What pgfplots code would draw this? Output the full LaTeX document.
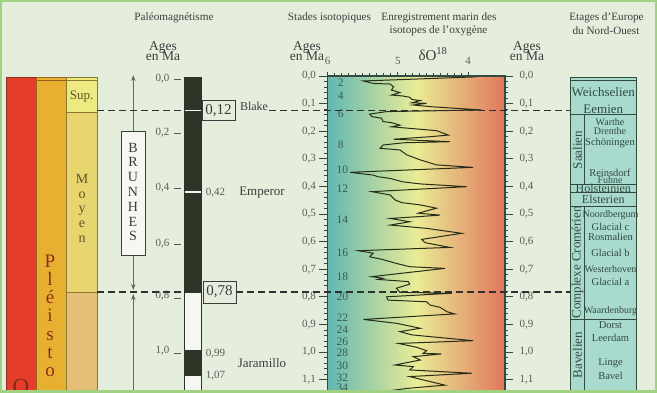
\documentclass[border=0pt]{standalone}
\usepackage{pgfplots}
\pgfplotsset{compat=1.18}
\usepackage{pgfplotstable}
\usepackage{fontspec}
\setmainfont{Liberation Serif}
\usetikzlibrary{arrows.meta}
\definecolor{bgc}{RGB}{229,238,221}
\definecolor{framec}{RGB}{160,210,130}
\definecolor{redc}{RGB}{228,62,42}
\definecolor{redb}{RGB}{140,45,30}
\definecolor{orc}{RGB}{232,176,48}
\definecolor{orb}{RGB}{150,100,30}
\definecolor{supc}{RGB}{236,234,128}
\definecolor{moyc}{RGB}{231,214,112}
\definecolor{infc}{RGB}{229,190,120}
\definecolor{yelb}{RGB}{140,120,50}
\definecolor{barb}{RGB}{45,52,40}
\definecolor{barw}{RGB}{245,247,240}
\definecolor{tealg}{RGB}{98,184,180}
\definecolor{yelg}{RGB}{234,236,150}
\definecolor{salg}{RGB}{226,118,92}
\definecolor{curvec}{RGB}{40,45,25}
\definecolor{stagec}{RGB}{168,218,206}
\definecolor{stagel}{RGB}{50,75,65}
\definecolor{txt}{RGB}{60,60,60}
\definecolor{txtg}{RGB}{90,90,90}
\definecolor{stnum}{RGB}{60,90,80}
\definecolor{arrc}{RGB}{100,108,98}
\newcommand\fs[1]{\fontsize{#1}{#1}\selectfont}
\newcommand\rect[5]{\addplot[#5] coordinates {(#1,#2)(#3,#2)(#3,#4)(#1,#4)(#1,#2)};}
\newcommand\hl[4]{\addplot[#4] coordinates {(#1,#3)(#2,#3)};}

\pgfplotstableread{
d a
3.88 0.003
5.49 0.018
5.35 0.027
5.11 0.029
5.06 0.039
5.09 0.051
4.97 0.060
5.09 0.069
4.94 0.072
4.83 0.077
4.80 0.085
4.68 0.089
4.80 0.097
4.59 0.099
4.78 0.105
4.54 0.111
3.81 0.123
5.16 0.129
5.40 0.138
5.37 0.147
5.23 0.153
5.21 0.165
5.09 0.169
4.97 0.178
5.09 0.184
4.45 0.198
4.28 0.214
4.54 0.220
5.06 0.229
4.26 0.238
4.92 0.242
5.21 0.250
5.25 0.262
4.97 0.268
4.87 0.286
4.68 0.304
4.45 0.322
3.93 0.331
5.68 0.349
5.35 0.359
5.28 0.365
5.11 0.371
4.94 0.383
4.68 0.391
4.02 0.401
5.37 0.419
5.11 0.431
5.04 0.449
4.94 0.459
4.68 0.467
4.45 0.479
4.71 0.497
4.40 0.504
4.73 0.510
5.11 0.516
4.83 0.528
5.11 0.540
4.59 0.552
4.09 0.570
4.35 0.580
4.66 0.592
4.61 0.604
4.26 0.621
5.56 0.633
5.35 0.642
5.40 0.655
5.23 0.664
5.02 0.679
4.83 0.691
4.33 0.697
5.37 0.727
5.21 0.733
5.28 0.737
4.85 0.745
4.83 0.754
5.02 0.769
4.97 0.784
4.23 0.787
5.16 0.800
5.14 0.812
4.59 0.818
4.54 0.830
4.40 0.838
4.30 0.854
4.19 0.862
5.49 0.882
5.02 0.896
4.68 0.914
4.97 0.926
4.80 0.938
3.93 0.959
4.99 0.969
4.73 0.983
4.59 0.995
4.64 1.005
4.38 1.007
4.78 1.017
4.68 1.029
5.04 1.047
4.78 1.053
4.83 1.065
3.95 1.077
4.83 1.089
4.64 1.101
4.33 1.120
4.87 1.132
5.11 1.140
4.92 1.150
}\isotope

\begin{document}
\begin{tikzpicture}
\useasboundingbox (0,0) rectangle (657pt,392pt);
% ---------------- background axis in pixel coordinates
\begin{axis}[at={(0pt,392pt)}, anchor=north west, scale only axis,
  width=657pt, height=392pt, xmin=0, xmax=657, ymin=0, ymax=392,
  y dir=reverse, hide axis, clip=false, enlargelimits=false]
\rect{0}{0}{657}{392}{fill=bgc, draw=none}
% left stratigraphic columns
\rect{6.7}{77.3}{36}{400}{fill=redc, draw=redb, line width=0.8pt}
\rect{36}{77.3}{66}{400}{fill=orc, draw=orb, line width=0.8pt}
\hl{36}{66}{80.7}{orb, line width=0.6pt}
\rect{66}{77.3}{97.3}{80.7}{fill=supc, draw=yelb, line width=0.6pt}
\rect{66}{80.7}{97.3}{112}{fill=supc, draw=yelb, line width=0.6pt}
\rect{66}{112}{97.3}{292}{fill=moyc, draw=yelb, line width=0.6pt}
\rect{66}{292}{97.3}{400}{fill=infc, draw=yelb, line width=0.6pt}
\node[font=\fs{13}, text=yelb!70!black] at (axis cs:81.7,97) {Sup.};
\node[font=\fs{14}, text=yelb!70!black, anchor=base] at (axis cs:82,183) {M};
\node[font=\fs{14}, text=yelb!70!black, anchor=base] at (axis cs:82,198) {o};
\node[font=\fs{14}, text=yelb!70!black, anchor=base] at (axis cs:82,212.5) {y};
\node[font=\fs{14}, text=yelb!70!black, anchor=base] at (axis cs:82,227.5) {e};
\node[font=\fs{14}, text=yelb!70!black, anchor=base] at (axis cs:82,242) {n};
\node[font=\fs{19}, text=redb, anchor=base] at (axis cs:50,267) {P};
\node[font=\fs{19}, text=redb, anchor=base] at (axis cs:50,285) {l};
\node[font=\fs{19}, text=redb, anchor=base] at (axis cs:50,303) {é};
\node[font=\fs{19}, text=redb, anchor=base] at (axis cs:50,321) {i};
\node[font=\fs{19}, text=redb, anchor=base] at (axis cs:50,340) {s};
\node[font=\fs{19}, text=redb, anchor=base] at (axis cs:50,358) {t};
\node[font=\fs{19}, text=redb, anchor=base] at (axis cs:50,376) {o};
\node[font=\fs{23}, text=redb!90!black, anchor=base] at (axis cs:21,394) {Q};
% Brunhes arrows
\addplot[arrc, line width=1pt, -{Stealth[length=6pt,width=4.5pt]}] coordinates {(133.3,131)(133.3,75)};
\addplot[arrc, line width=1pt, -{Stealth[length=6pt,width=4.5pt]}] coordinates {(133.3,255)(133.3,290)};
\addplot[arrc, line width=1pt, -{Stealth[length=6pt,width=4.5pt]}] coordinates {(133.3,400)(133.3,294)};
\rect{121}{131}{145}{255}{fill=barw, draw=txt, line width=0.9pt}
\node[font=\fs{14}, text=txt, anchor=base] at (axis cs:133,152) {B};
\node[font=\fs{14}, text=txt, anchor=base] at (axis cs:133,166.8) {R};
\node[font=\fs{14}, text=txt, anchor=base] at (axis cs:133,181.6) {U};
\node[font=\fs{14}, text=txt, anchor=base] at (axis cs:133,196.4) {N};
\node[font=\fs{14}, text=txt, anchor=base] at (axis cs:133,211.2) {H};
\node[font=\fs{14}, text=txt, anchor=base] at (axis cs:133,226) {E};
\node[font=\fs{14}, text=txt, anchor=base] at (axis cs:133,240.8) {S};
% paleomagnetic column
\rect{184}{77.3}{201}{292}{fill=barb, draw=barb, line width=0.6pt}
\rect{184}{292}{201}{350}{fill=barw, draw=barb, line width=0.6pt}
\rect{184}{350}{201}{375}{fill=barb, draw=barb, line width=0.6pt}
\rect{184}{375}{201}{400}{fill=barw, draw=barb, line width=0.6pt}
\hl{184.5}{200.5}{110.5}{barw, line width=1.6pt}
\hl{184.5}{200.5}{192}{barw, line width=1.4pt}
\node[font=\fs{11}, text=txtg, anchor=east] at (axis cs:173,79) {0,0};
\node[font=\fs{11}, text=txtg, anchor=east] at (axis cs:173,133) {0,2};
\node[font=\fs{11}, text=txtg, anchor=east] at (axis cs:173,188) {0,4};
\node[font=\fs{11}, text=txtg, anchor=east] at (axis cs:173,244) {0,6};
\node[font=\fs{11}, text=txtg, anchor=east] at (axis cs:173,296) {0,8};
\node[font=\fs{11}, text=txtg, anchor=east] at (axis cs:173,351) {1,0};
\hl{174}{181}{79}{txtg, line width=0.9pt}
\hl{174}{181}{133}{txtg, line width=0.9pt}
\hl{174}{181}{188}{txtg, line width=0.9pt}
\hl{174}{181}{244}{txtg, line width=0.9pt}
\hl{174}{181}{298}{txtg, line width=0.9pt}
\hl{174}{181}{353}{txtg, line width=0.9pt}
\node[font=\fs{15}, text=txt, draw=txt, fill=bgc, line width=0.9pt, minimum width=33pt, minimum height=20pt, inner sep=0pt] at (axis cs:218.5,110.5) {0,12};
\node[font=\fs{15}, text=txt, draw=txt, fill=bgc, line width=0.9pt, minimum width=33pt, minimum height=22pt, inner sep=0pt] at (axis cs:219.5,292) {0,78};
\node[font=\fs{12}, text=txt] at (axis cs:254,106) {Blake};
\node[font=\fs{11}, text=txtg] at (axis cs:215.5,193) {0,42};
\node[font=\fs{13}, text=txt] at (axis cs:262,193) {Emperor};
\node[font=\fs{11}, text=txtg] at (axis cs:215.5,354) {0,99};
\node[font=\fs{11}, text=txtg] at (axis cs:215.5,376) {1,07};
\node[font=\fs{13}, text=txt] at (axis cs:262,363) {Jaramillo};
% headers
\node[font=\fs{11.2}, text=txt] at (axis cs:174,18) {Paléomagnétisme};
\node[font=\fs{11.2}, text=txt] at (axis cs:329.5,18) {Stades isotopiques};
\node[font=\fs{11.2}, text=txt] at (axis cs:439,17.5) {Enregistrement marin des};
\node[font=\fs{11.2}, text=txt] at (axis cs:438.5,31) {isotopes de l'oxygène};
\node[font=\fs{11.2}, text=txt] at (axis cs:606.5,17.5) {Etages d'Europe};
\node[font=\fs{11.2}, text=txt] at (axis cs:606,31) {du Nord-Ouest};
\node[font=\fs{13.5}, text=txt] at (axis cs:163,47) {Ages};
\node[font=\fs{13.5}, text=txt] at (axis cs:163,56) {en Ma};
\node[font=\fs{13.5}, text=txt] at (axis cs:307,47) {Ages};
\node[font=\fs{13.5}, text=txt] at (axis cs:307,56) {en Ma};
\node[font=\fs{13.5}, text=txt] at (axis cs:527,47) {Ages};
\node[font=\fs{13.5}, text=txt] at (axis cs:527,56) {en Ma};
\node[font=\fs{15}, text=txt] at (axis cs:433,54) {δO\textsuperscript{18}};
% stage column
\rect{570}{77}{636.7}{400}{fill=stagec, draw=stagel, line width=1pt}
\hl{570}{636.7}{80.7}{stagel, line width=0.7pt}
\hl{570}{636.7}{114.3}{stagel, line width=0.7pt}
\hl{570}{636.7}{184}{stagel, line width=0.7pt}
\hl{570}{636.7}{192.5}{stagel, line width=0.7pt}
\hl{570}{636.7}{206.5}{stagel, line width=0.7pt}
\hl{570}{636.7}{319}{stagel, line width=0.7pt}
\addplot[stagel, line width=0.7pt] coordinates {(584,114.3)(584,184)};
\addplot[stagel, line width=0.7pt] coordinates {(584,206.5)(584,400)};
\node[font=\fs{13}, text=stagel] at (axis cs:603.3,91.7) {Weichselien};
\node[font=\fs{13}, text=stagel] at (axis cs:603.3,109) {Eemien};
\node[font=\fs{10}, text=stagel] at (axis cs:610,121.7) {Warthe};
\node[font=\fs{10}, text=stagel] at (axis cs:610,130.7) {Drenthe};
\node[font=\fs{10.5}, text=stagel] at (axis cs:610,142.7) {Schöningen};
\node[font=\fs{10.5}, text=stagel] at (axis cs:610,173.3) {Reinsdorf};
\node[font=\fs{10}, text=stagel] at (axis cs:610,180.5) {Fuhne};
\node[font=\fs{12}, text=stagel] at (axis cs:603.3,188.3) {Holsteinien};
\node[font=\fs{12}, text=stagel] at (axis cs:603.3,199.7) {Elsterien};
\node[font=\fs{10}, text=stagel] at (axis cs:610.5,215) {Noordbergum};
\node[font=\fs{10.5}, text=stagel] at (axis cs:610.5,226.7) {Glacial c};
\node[font=\fs{10.5}, text=stagel] at (axis cs:610.5,236.7) {Rosmalien};
\node[font=\fs{10.5}, text=stagel] at (axis cs:610.5,252.7) {Glacial b};
\node[font=\fs{10}, text=stagel] at (axis cs:610.5,269) {Westerhoven};
\node[font=\fs{10.5}, text=stagel] at (axis cs:610.5,281.7) {Glacial a};
\node[font=\fs{10}, text=stagel] at (axis cs:610.5,310.7) {Waardenburg};
\node[font=\fs{10.5}, text=stagel] at (axis cs:610.5,325) {Dorst};
\node[font=\fs{10.5}, text=stagel] at (axis cs:610.5,338.3) {Leerdam};
\node[font=\fs{10.5}, text=stagel] at (axis cs:610.5,363) {Linge};
\node[font=\fs{10.5}, text=stagel] at (axis cs:610.5,376) {Bavel};
\node[font=\fs{13}, text=stagel, rotate=90] at (axis cs:577.5,150) {Saalien};
\node[font=\fs{13}, text=stagel, rotate=90] at (axis cs:577.5,262.5) {Complexe Cromérien};
\node[font=\fs{13}, text=stagel, rotate=90] at (axis cs:577.5,355) {Bavelien};
% anchors for overlay
\coordinate (isoNW) at (axis cs:327.5,76);
\coordinate (a1) at (axis cs:97.3,110.5);
\coordinate (a2) at (axis cs:184,110.5);
\coordinate (a3) at (axis cs:269,110.5);
\coordinate (a4) at (axis cs:570,110.5);
\coordinate (b1) at (axis cs:97.3,292);
\coordinate (b2) at (axis cs:184,292);
\coordinate (b3) at (axis cs:236,292);
\coordinate (b4) at (axis cs:570,292);
\end{axis}
% ---------------- isotope axis
\begin{axis}[at={(isoNW)}, anchor=north west, scale only axis,
  width=177.5pt, height=331.2pt,
  xmin=3.475, xmax=6, x dir=reverse, ymin=0, ymax=1.2, y dir=reverse,
  enlargelimits=false, axis on top, clip=false,
  xtick={4,5,6}, minor x tick num=9, xtick pos=right, xticklabel pos=right,
  ytick={0,0.1,0.2,0.3,0.4,0.5,0.6,0.7,0.8,0.9,1.0,1.1}, minor y tick num=4,
  ytick pos=both, yticklabel pos=left,
  tick align=outside, major tick length=8pt, minor tick length=3pt,
  xtick style={/pgfplots/major tick length=4pt},
  tick style={color=stagel, line width=0.8pt},
  minor tick style={line width=0.6pt},
  axis line style={color=stagel, line width=1.1pt},
  /pgf/number format/assume math mode=true,
  yticklabel style={font=\fs{11}, text=txtg, /pgf/number format/use comma,
    /pgf/number format/fixed, /pgf/number format/fixed zerofill, /pgf/number format/precision=1},
  xticklabel style={font=\fs{11}, text=txtg},
]
\addplot[draw=none, left color=tealg, right color=salg, middle color=yelg]
  coordinates {(6,0)(3.475,0)(3.475,1.2)(6,1.2)(6,0)};
\addplot[curvec, line width=1pt] table[x=d, y=a] {\isotope};
\node[font=\fs{11.5}, text=stnum] at (axis cs:5.81,0.024) {2};
\node[font=\fs{11.5}, text=stnum] at (axis cs:5.81,0.072) {4};
\node[font=\fs{11.5}, text=stnum] at (axis cs:5.81,0.138) {6};
\node[font=\fs{11.5}, text=stnum] at (axis cs:5.81,0.250) {8};
\node[font=\fs{11.5}, text=stnum] at (axis cs:5.79,0.341) {10};
\node[font=\fs{11.5}, text=stnum] at (axis cs:5.79,0.409) {12};
\node[font=\fs{11.5}, text=stnum] at (axis cs:5.79,0.522) {14};
\node[font=\fs{11.5}, text=stnum] at (axis cs:5.79,0.640) {16};
\node[font=\fs{11.5}, text=stnum] at (axis cs:5.79,0.727) {18};
\node[font=\fs{11.5}, text=stnum] at (axis cs:5.79,0.800) {20};
\node[font=\fs{11.5}, text=stnum] at (axis cs:5.79,0.877) {22};
\node[font=\fs{11.5}, text=stnum] at (axis cs:5.79,0.920) {24};
\node[font=\fs{11.5}, text=stnum] at (axis cs:5.79,0.963) {26};
\node[font=\fs{11.5}, text=stnum] at (axis cs:5.79,1.004) {28};
\node[font=\fs{11.5}, text=stnum] at (axis cs:5.79,1.051) {30};
\node[font=\fs{11.5}, text=stnum] at (axis cs:5.79,1.094) {32};
\node[font=\fs{11.5}, text=stnum] at (axis cs:5.79,1.130) {34};
\node[font=\fs{11}, text=txtg, anchor=west, xshift=11pt] at (axis cs:3.475,0.0) {0,0};
\node[font=\fs{11}, text=txtg, anchor=west, xshift=11pt] at (axis cs:3.475,0.1) {0,1};
\node[font=\fs{11}, text=txtg, anchor=west, xshift=11pt] at (axis cs:3.475,0.2) {0,2};
\node[font=\fs{11}, text=txtg, anchor=west, xshift=11pt] at (axis cs:3.475,0.3) {0,3};
\node[font=\fs{11}, text=txtg, anchor=west, xshift=11pt] at (axis cs:3.475,0.4) {0,4};
\node[font=\fs{11}, text=txtg, anchor=west, xshift=11pt] at (axis cs:3.475,0.5) {0,5};
\node[font=\fs{11}, text=txtg, anchor=west, xshift=11pt] at (axis cs:3.475,0.6) {0,6};
\node[font=\fs{11}, text=txtg, anchor=west, xshift=11pt] at (axis cs:3.475,0.7) {0,7};
\node[font=\fs{11}, text=txtg, anchor=west, xshift=11pt] at (axis cs:3.475,0.8) {0,8};
\node[font=\fs{11}, text=txtg, anchor=west, xshift=11pt] at (axis cs:3.475,0.9) {0,9};
\node[font=\fs{11}, text=txtg, anchor=west, xshift=11pt] at (axis cs:3.475,1.0) {1,0};
\node[font=\fs{11}, text=txtg, anchor=west, xshift=11pt] at (axis cs:3.475,1.1) {1,1};
\end{axis}
% dashed correlation lines
\draw[color=txt!80!black, line width=1.4pt, dash pattern=on 6.5pt off 4.5pt] (a1) -- (a2) (a3) -- (a4);
\draw[color=txt!80!black, line width=1.4pt, dash pattern=on 6.5pt off 4.5pt] (b1) -- (b2) (b3) -- (b4);
% frame
\draw[framec, line width=4pt] (0,0) rectangle (657pt,392pt);
\end{tikzpicture}
\end{document}
